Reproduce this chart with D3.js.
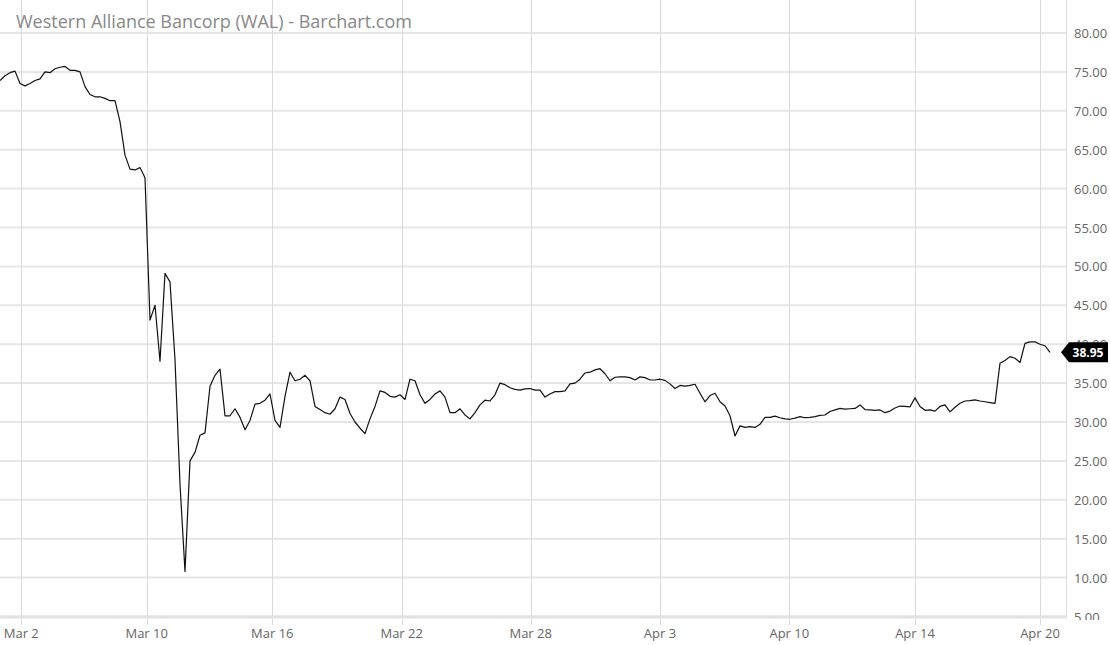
<!doctype html>
<html>

<head>
    <title>WAL line chart</title>
    <style>
        body {
            margin: 0;
            background: #fff;
        }

        text {
            font-family: "Open Sans", sans-serif;
        }
    </style>
    <script src="https://d3js.org/d3.v7.min.js"></script>
</head>

<body>
    <svg width="1110" height="645"></svg>
    <script>

        // price series, one point per bar
        var prices = [
            73.9, 74.5, 74.9, 75.1, 73.5, 73.2, 73.5, 73.9, 74.1, 75.0,
            74.9, 75.4, 75.6, 75.7, 75.2, 75.2, 75.0, 73.1, 72.1, 71.8,
            71.8, 71.6, 71.3, 71.3, 68.6, 64.3, 62.5, 62.4, 62.7, 61.4,
            43.1, 45.0, 37.8, 49.1, 48.0, 38.0, 22.0, 10.8, 25.0, 26.1,
            28.3, 28.6, 34.6, 36.0, 36.8, 30.8, 30.8, 31.7, 30.6, 29.0,
            30.2, 32.3, 32.4, 32.8, 33.6, 30.2, 29.3, 33.3, 36.4, 35.3,
            35.5, 36.0, 35.3, 32.0, 31.6, 31.2, 31.0, 31.7, 33.2, 32.9,
            31.1, 30.0, 29.2, 28.5, 30.4, 32.0, 34.0, 33.8, 33.3, 33.2,
            33.5, 32.9, 35.5, 35.3, 33.5, 32.4, 32.9, 33.6, 34.0, 33.2,
            31.2, 31.2, 31.7, 30.9, 30.4, 31.2, 32.2, 32.8, 32.7, 33.5,
            35.0, 34.8, 34.4, 34.2, 34.1, 34.25, 34.3, 34.1, 34.1, 33.2,
            33.6, 33.9, 33.9, 34.0, 34.9, 35.0, 35.5, 36.3, 36.4, 36.7,
            36.85, 36.2, 35.3, 35.75, 35.8, 35.8, 35.7, 35.4, 35.8, 35.7,
            35.4, 35.4, 35.5, 35.35, 34.9, 34.3, 34.7, 34.6, 34.7, 34.85,
            33.7, 32.6, 33.4, 33.7, 32.6, 32.05, 30.8, 28.2, 29.5, 29.3,
            29.4, 29.3, 29.7, 30.6, 30.6, 30.75, 30.55, 30.4, 30.35, 30.5,
            30.7, 30.55, 30.6, 30.7, 30.85, 30.9, 31.35, 31.55, 31.75, 31.65,
            31.7, 31.75, 32.2, 31.6, 31.55, 31.5, 31.55, 31.2, 31.4, 31.8,
            32.05, 32.0, 31.95, 33.1, 32.0, 31.5, 31.55, 31.4, 32.0, 32.2,
            31.3, 31.9, 32.4, 32.7, 32.75, 32.85, 32.7, 32.6, 32.5, 32.4,
            37.55, 37.9, 38.4, 38.2, 37.65, 40.1, 40.3, 40.3, 40.0, 39.8,
            38.95
        ];

        // date ticks, placed at the bar index where each session starts
        var tickLabels = ["Mar 2", "Mar 10", "Mar 16", "Mar 22", "Mar 28", "Apr 3", "Apr 10", "Apr 14", "Apr 20"];
        var tickIdx = [4.26, 29.34, 54.46, 80.34, 106.14, 132, 157.86, 183, 208];

        var yTicks = [5, 10, 15, 20, 25, 30, 35, 40, 45, 50, 55, 60, 65, 70, 75, 80];
        var lastPrice = 38.95;

        var svg = d3.select("svg"),
            plotRight = 1066,
            plotBottom = 617;

        var xScale = d3.scaleLinear().domain([0, prices.length - 1]).range([0, 1050]),
            yScale = d3.scaleLinear().domain([5, 80]).range([616.5, 33]);

        // y labels get cut at the bottom edge of the plot, like the original
        svg.append("clipPath")
            .attr("id", "yclip")
            .append("rect")
            .attr("x", plotRight)
            .attr("y", 0)
            .attr("width", 50)
            .attr("height", 620);

        // horizontal grid
        svg.append("g")
            .selectAll("line")
            .data(yTicks)
            .enter()
            .append("line")
            .attr("x1", 0)
            .attr("x2", plotRight)
            .attr("y1", function (d) { return yScale(d); })
            .attr("y2", function (d) { return yScale(d); })
            .attr("stroke", "#e6e6e6")
            .attr("stroke-width", 2);

        // vertical grid + tick stubs
        svg.append("g")
            .selectAll("line")
            .data(tickIdx)
            .enter()
            .append("line")
            .attr("x1", function (d) { return Math.round(xScale(d)) + 0.5; })
            .attr("x2", function (d) { return Math.round(xScale(d)) + 0.5; })
            .attr("y1", 0)
            .attr("y2", 625)
            .attr("stroke", "#dadada")
            .attr("stroke-width", 1);

        // bottom axis line
        svg.append("line")
            .attr("x1", 0)
            .attr("x2", plotRight)
            .attr("y1", plotBottom)
            .attr("y2", plotBottom)
            .attr("stroke", "#e2e2e2")
            .attr("stroke-width", 3);

        // right axis line
        svg.append("line")
            .attr("x1", plotRight + 0.5)
            .attr("x2", plotRight + 0.5)
            .attr("y1", 0)
            .attr("y2", plotBottom + 1)
            .attr("stroke", "#dcdcdc");

        // x labels
        svg.append("g")
            .selectAll("text")
            .data(tickIdx)
            .enter()
            .append("text")
            .attr("x", function (d) { return xScale(d); })
            .attr("y", 638)
            .attr("text-anchor", "middle")
            .attr("font-size", "13px")
            .attr("fill", "#666")
            .text(function (d, i) { return tickLabels[i]; });

        // y labels
        svg.append("g")
            .attr("clip-path", "url(#yclip)")
            .selectAll("text")
            .data(yTicks)
            .enter()
            .append("text")
            .attr("x", 1074)
            .attr("y", function (d) { return yScale(d) + 5; })
            .attr("font-size", "13px")
            .attr("fill", "#666")
            .text(function (d) { return d.toFixed(2); });

        svg.append("text")
            .attr("x", 16)
            .attr("y", 28)
            .attr("font-size", "18px")
            .attr("fill", "#888")
            .text("Western Alliance Bancorp (WAL) - Barchart.com");

        var line = d3.line()
            .x(function (d, i) { return xScale(i); })
            .y(function (d) { return yScale(d); });

        svg.append("path")
            .datum(prices)
            .attr("d", line)
            .attr("fill", "none")
            .attr("stroke", "#111")
            .attr("stroke-width", 1.2)
            .attr("stroke-linejoin", "round");

        // last price flag
        var ly = yScale(lastPrice);
        svg.append("path")
            .attr("d", "M1061," + ly + " L1069," + (ly - 10) + " H1108 V" + (ly + 10) + " H1069 Z")
            .attr("fill", "#000");

        svg.append("text")
            .attr("x", 1088)
            .attr("y", ly + 4.5)
            .attr("text-anchor", "middle")
            .attr("font-size", "12px")
            .attr("font-weight", "bold")
            .attr("fill", "#fff")
            .text(lastPrice.toFixed(2));

    </script>
</body>

</html>
